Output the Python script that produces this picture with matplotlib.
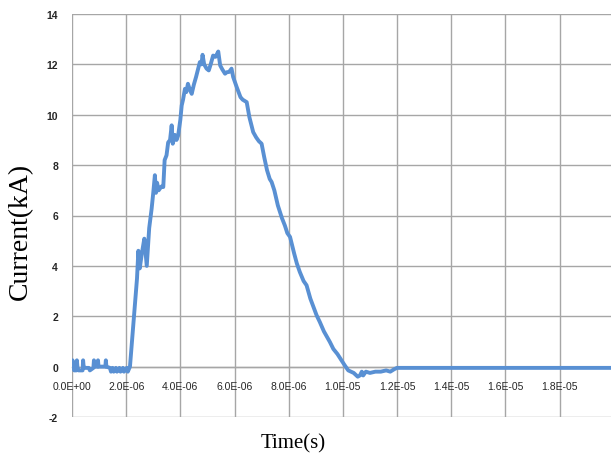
import matplotlib
matplotlib.use("Agg")
import numpy as np
import matplotlib.pyplot as plt

plt.rcParams['axes.unicode_minus'] = False

# trace (time in microseconds, current in kA)
time_us = [0.0, 0.02, 0.04, 0.08, 0.16, 0.18, 0.20, 0.24, 0.39, 0.41, 0.43, 0.47,
           0.62, 0.66, 0.79, 0.81, 0.83, 0.94, 0.96, 0.98, 1.23, 1.25, 1.27, 1.40,
           1.44, 1.50, 1.54, 1.62, 1.66, 1.75, 1.79, 1.88, 1.92, 2.02, 2.06, 2.12,
           2.14, 2.26, 2.40, 2.45, 2.50, 2.58, 2.67, 2.76, 2.85, 2.94, 3.00, 3.06,
           3.10, 3.14, 3.20, 3.30, 3.37, 3.42, 3.49, 3.55, 3.62, 3.68, 3.72, 3.80,
           3.86, 3.92, 4.00, 4.05, 4.10, 4.17, 4.22, 4.28, 4.35, 4.42, 4.50, 4.58,
           4.65, 4.72, 4.78, 4.82, 4.88, 4.97, 5.05, 5.12, 5.21, 5.30, 5.40, 5.47,
           5.55, 5.65, 5.72, 5.80, 5.89, 5.95, 6.08, 6.15, 6.22, 6.30, 6.45, 6.55,
           6.69, 6.80, 6.90, 7.00, 7.10, 7.20, 7.30, 7.37, 7.47, 7.60, 7.75, 7.86,
           7.95, 8.05, 8.20, 8.30, 8.41, 8.55, 8.66, 8.80, 9.03, 9.15, 9.30, 9.52,
           9.65, 9.80, 10.07, 10.20, 10.40, 10.55, 10.63, 10.70, 10.75, 10.85, 11.00,
           11.20, 11.40, 11.60, 11.75, 11.90, 12.00, 20.00]
current_ka = [0.0, 0.25, 0.0, -0.15, -0.15, 0.25, 0.0, -0.15, -0.15, 0.25, 0.0, -0.05,
              -0.05, -0.15, -0.05, 0.25, 0.0, 0.0, 0.25, 0.0, 0.0, 0.25, 0.0, -0.05,
              -0.2, -0.05, -0.2, -0.05, -0.2, -0.05, -0.2, -0.05, -0.2, -0.05, -0.2, -0.05,
              0.0, 1.64, 3.5, 4.6, 3.9, 4.5, 5.08, 4.0, 5.5, 6.27, 6.9, 7.6,
              6.9, 7.3, 7.0, 7.15, 7.13, 8.2, 8.39, 8.9, 9.0, 9.58, 8.85, 9.2,
              9.0, 9.18, 9.8, 10.37, 10.6, 11.03, 10.9, 11.23, 11.0, 10.83, 11.2, 11.5,
              11.8, 12.09, 12.0, 12.38, 12.0, 11.83, 11.76, 12.0, 12.35, 12.3, 12.51, 11.96,
              11.8, 11.63, 11.69, 11.7, 11.83, 11.5, 11.1, 10.9, 10.7, 10.6, 10.5, 9.9,
              9.31, 9.1, 8.95, 8.85, 8.3, 7.8, 7.45, 7.33, 7.0, 6.4, 5.9, 5.6,
              5.3, 5.15, 4.5, 4.1, 3.76, 3.4, 3.23, 2.7, 2.04, 1.77, 1.4, 0.98,
              0.7, 0.5, 0.05, -0.15, -0.25, -0.4, -0.35, -0.2, -0.35, -0.2, -0.25,
              -0.2, -0.2, -0.15, -0.2, -0.1, -0.05, -0.05]

x_ticks = [0.0, 2e-6, 4e-6, 6e-6, 8e-6, 1e-5, 1.2e-5, 1.4e-5, 1.6e-5, 1.8e-5]
x_labels = ["0.0E+00", "2.0E-06", "4.0E-06", "6.0E-06", "8.0E-06",
            "1.0E-05", "1.2E-05", "1.4E-05", "1.6E-05", "1.8E-05"]
y_ticks = [-2, 0, 2, 4, 6, 8, 10, 12, 14]

t = np.array(time_us) * 1e-6

fig = plt.figure(figsize=(6.11, 4.56), dpi=100)
ax = fig.add_axes([72/611, 1 - 418/456, 1 - 72/611, (418 - 15)/456])

ax.plot(t, current_ka, color='#5990D3', lw=2.8, solid_joinstyle='round', zorder=3)

ax.set_xlim(0, 1.99e-5)
ax.set_ylim(-2, 14)
ax.set_xticks(x_ticks)
ax.set_xticklabels(x_labels)
ax.set_yticks(y_ticks)
ax.grid(True, color='#a6a6a6', lw=1.0)
ax.set_axisbelow(True)

for s in ['top', 'right', 'left']:
    ax.spines[s].set_visible(False)
ax.spines['bottom'].set_position(('data', 0))
ax.spines['bottom'].set_color('#a6a6a6')
ax.spines['bottom'].set_linewidth(1.0)

ax.tick_params(axis='x', length=0, pad=10.5, labelsize=7.5, labelcolor='#262626')
ax.tick_params(axis='y', length=0, pad=10, labelsize=7.5, labelcolor='#262626')
for lab in ax.get_xticklabels():
    lab.set_family('Liberation Sans')
for lab in ax.get_yticklabels():
    lab.set_family('Liberation Sans')
    lab.set_fontweight('bold')

fig.text(20/611, 1 - 231/456, 'Current(kA)', rotation=90, ha='center', va='center',
         family='Liberation Serif', fontsize=20)
fig.text(293/611, 1 - 444/456, 'Time(s)', ha='center', va='center',
         family='Liberation Serif', fontsize=15)

fig.savefig('out.png', dpi=100)
